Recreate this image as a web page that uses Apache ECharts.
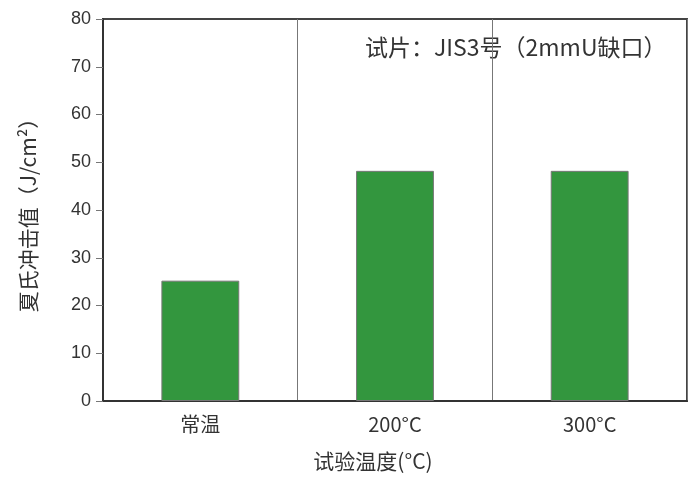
<!DOCTYPE html>
<html><head><meta charset="utf-8">
<script src="https://cdn.jsdelivr.net/npm/echarts@6/dist/echarts.min.js"></script>
<style>html,body{margin:0;padding:0;background:#fff}#c{width:691px;height:477px}</style>
</head><body><div id="c"></div>
<script>
const categories = ['常温', '200°C', '300°C'];
const values = [25.2, 48.2, 48.2];
const yTicks = [0, 10, 20, 30, 40, 50, 60, 70, 80];
const yName = '夏氏冲击值（J/cm²）';
const xName = '试验温度(°C)';
const note = '试片：JIS3号（2mmU缺口）';

const chart = echarts.init(document.getElementById('c'));
chart.setOption({
  animation: false,
  backgroundColor: '#fff',
  grid: { left: 103, right: 4, top: 19, bottom: 74, show: true, borderColor: '#444', borderWidth: 2 },
  xAxis: {
    type: 'category', data: categories,
    name: xName, nameLocation: 'middle', nameGap: 50,
    nameTextStyle: { fontFamily: 'Noto Sans CJK SC', fontSize: 21, color: '#333', padding: [0, 44, 0, 0] },
    axisLine: { lineStyle: { color: '#333', width: 2 } },
    axisTick: { show: false },
    axisLabel: { fontFamily: 'Noto Sans CJK SC', fontSize: 20, color: '#333', margin: 13 },
    splitLine: { show: true, lineStyle: { color: '#777', width: 1 } }
  },
  yAxis: {
    type: 'value', min: yTicks[0], max: yTicks[yTicks.length - 1], interval: 10,
    name: yName, nameLocation: 'middle', nameRotate: 90, nameGap: 64,
    nameTextStyle: { fontFamily: 'Noto Sans CJK SC', fontSize: 21, color: '#333' },
    axisLine: { show: true, lineStyle: { color: '#333', width: 2 } },
    axisTick: { show: true, length: 7, lineStyle: { color: '#777' } },
    axisLabel: { fontFamily: 'Liberation Sans', fontSize: 18, color: '#333', margin: 12 },
    splitLine: { show: false }
  },
  series: [{
    type: 'bar', data: values, barWidth: '40%',
    itemStyle: { color: '#33963e', borderColor: '#777', borderWidth: 1 }
  }],
  graphic: [{
    type: 'text', left: 365, top: 36,
    style: { text: note, fontFamily: 'Noto Sans CJK SC', fontSize: 23, fill: '#333' }
  }]
});
</script></body></html>
